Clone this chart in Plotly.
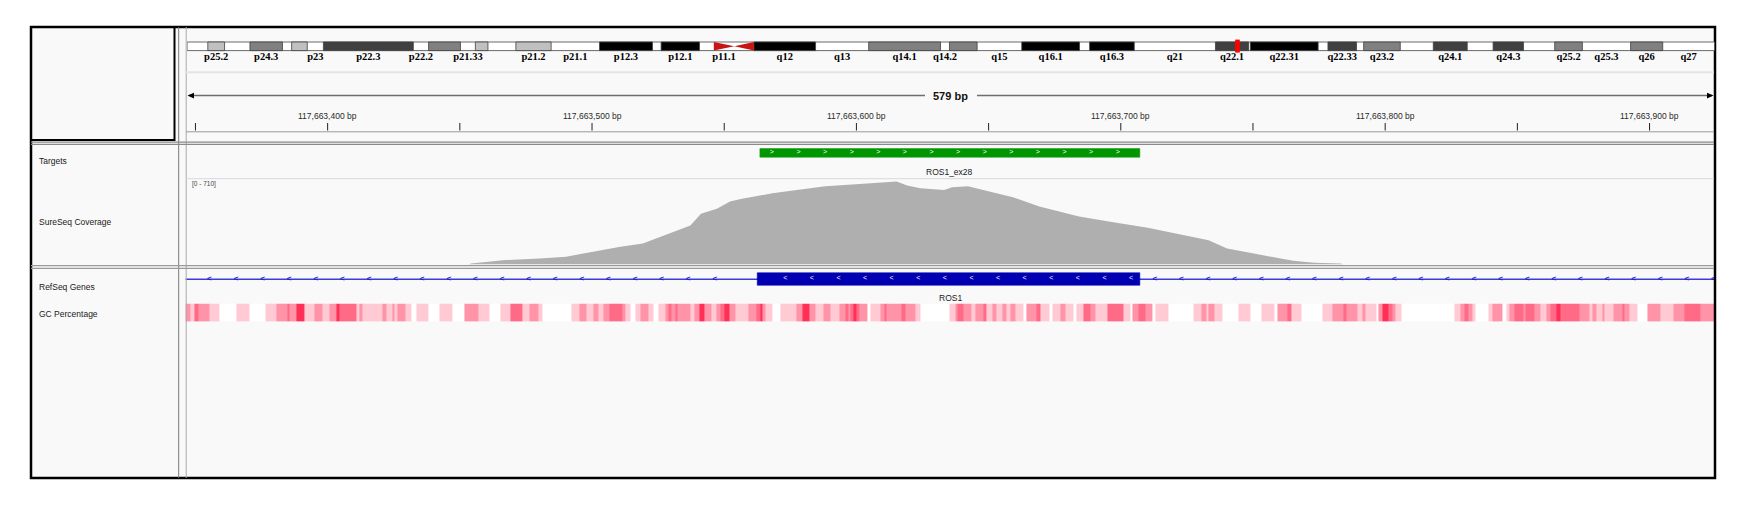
"""IGV-style snapshot of ROS1 exon 28 on chr6, rebuilt with plotly."""

import plotly.graph_objects as go

W, H = 1751, 513
SANS = 'Liberation Sans'
SERIF = 'Liberation Serif'

# visible window (hg19 chr6) and the ruler
view_start = 117663346.2
view_end = 117663924.6
view_width_label = '579 bp'
ruler_ticks = [117663350, 117663400, 117663450, 117663500, 117663550, 117663600,
               117663650, 117663700, 117663750, 117663800, 117663850, 117663900]
label_ticks = [117663400, 117663500, 117663600, 117663700, 117663800, 117663900]
tick_labels = ['117,663,400 bp', '117,663,500 bp', '117,663,600 bp',
               '117,663,700 bp', '117,663,800 bp', '117,663,900 bp']

# chr6 cytobands (Mb), as drawn in the ideogram
chrom_len = 171.1
band_names = ['p25.3', 'p25.2', 'p25.1', 'p24.3', 'p24.2', 'p24.1', 'p23', 'p22.3',
              'p22.2', 'p22.1', 'p21.33', 'p21.32', 'p21.31', 'p21.2', 'p21.1', 'p12.3',
              'p12.2', 'p12.1', 'p11.2', 'p11.1', 'q11.1', 'q12', 'q13', 'q14.1',
              'q14.2', 'q14.3', 'q15', 'q16.1', 'q16.2', 'q16.3', 'q21', 'q22.1',
              'q22.2', 'q22.31', 'q22.32', 'q22.33', 'q23.1', 'q23.2', 'q23.3', 'q24.1',
              'q24.2', 'q24.3', 'q25.1', 'q25.2', 'q25.3', 'q26', 'q27']
band_start = [0, 2.32, 4.2, 7.04, 10.68, 11.71, 13.46, 15.27,
              25.34, 27.05, 30.62, 32.29, 33.7, 36.83, 40.78, 46.2,
              52.13, 53.1, 57.4, 59.0, 61.3, 63.5, 70.4, 76.35,
              84.4, 85.4, 88.5, 93.5, 99.97, 101.1, 106.1, 115.2,
              118.9, 119.1, 126.7, 127.8, 131.0, 131.8, 135.9, 139.6,
              143.4, 146.3, 149.7, 153.2, 156.3, 161.7, 165.3]
band_end = band_start[1:] + [chrom_len]
band_stain = ['gneg', 'gpos25', 'gneg', 'gpos50', 'gneg', 'gpos25', 'gneg', 'gpos75',
              'gneg', 'gpos50', 'gneg', 'gpos25', 'gneg', 'gpos25', 'gneg', 'gpos100',
              'gneg', 'gpos100', 'gneg', 'acen', 'acen', 'gpos100', 'gneg', 'gpos50',
              'gneg', 'gpos50', 'gneg', 'gpos100', 'gneg', 'gpos100', 'gneg', 'gpos75',
              'gneg', 'gpos100', 'gneg', 'gpos75', 'gneg', 'gpos50', 'gneg', 'gpos75',
              'gneg', 'gpos75', 'gneg', 'gpos50', 'gneg', 'gpos50', 'gneg']
labelled_bands = ['p25.2', 'p24.3', 'p23', 'p22.3', 'p22.2', 'p21.33', 'p21.2', 'p21.1',
                  'p12.3', 'p12.1', 'p11.1', 'q12', 'q13', 'q14.1', 'q14.2', 'q15',
                  'q16.1', 'q16.3', 'q21', 'q22.1', 'q22.31', 'q22.33', 'q23.2', 'q24.1',
                  'q24.3', 'q25.2', 'q25.3', 'q26', 'q27']
stain_colour = {'gneg': '#ffffff', 'gpos25': '#c0c0c0', 'gpos50': '#808080',
                'gpos75': '#404040', 'gpos100': '#000000'}

# features
target_name = 'ROS1_ex28'
target_start, target_end = 117663563.5, 117663707.2
gene_name = 'ROS1'
exon_start, exon_end = 117663562.5, 117663707.2

# SureSeq coverage, offset in bp from view_start
cov_max = 710
cov_offset = [0, 107, 108, 116, 121, 134, 144, 149, 157, 164,
              173, 178, 184, 191, 195, 201, 206, 210, 222, 235,
              242, 255, 263, 269, 273, 278, 287, 290, 296, 307,
              313, 323, 338, 351, 364, 376, 387, 394, 401, 409,
              419, 427, 437, 438, 578]
cov_depth = [0, 0, 10, 23, 37, 51, 64, 86, 119, 146,
             174, 215, 269, 324, 420, 461, 521, 543, 589, 626,
             647, 667, 680, 686, 653, 631, 617, 639, 647, 589,
             557, 480, 398, 351, 305, 250, 201, 133, 105, 70,
             31, 15, 10, 0, 0]

# GC percentage heatmap: segment starts (bp offset) and colour class 0 (low) .. 4 (high)
gc_start = [0, 1.9, 3.5, 5.1, 9.2, 13.0, 19.3, 24.1, 30.4, 34.4,
            38.4, 39.2, 41.9, 45.1, 48.9, 52.0, 54.6, 57.1, 58.1, 64.6,
            65.9, 66.9, 74.4, 76.0, 78.3, 79.2, 80.0, 83.3, 85.4, 87.3,
            91.8, 95.9, 100.9, 105.6, 111.0, 115.1, 119.3, 122.9, 127.4, 130.2,
            133.4, 134.9, 145.9, 149.2, 151.8, 154.3, 156.2, 158.1, 160.4, 165.4,
            166.3, 168.2, 170.1, 172.0, 175.3, 177.2, 178.9, 181.4, 182.7, 183.9,
            185.2, 186.1, 190.9, 192.7, 194.6, 196.2, 199.1, 201.0, 202.2, 203.7,
            205.7, 207.9, 212.9, 216.1, 217.3, 218.3, 219.2, 222.1, 224.9, 231.2,
            233.5, 236.2, 238.1, 241.3, 244.1, 247.3, 249.5, 250.7, 251.6, 252.6,
            253.9, 255.1, 257.9, 259.2, 262.7, 264.2, 265.0, 270.9, 272.2, 276.0,
            278.1, 289.0, 291.1, 292.0, 294.3, 297.4, 298.7, 301.9, 302.9, 305.1,
            306.9, 309.2, 310.5, 312.0, 313.9, 316.8, 318.0, 321.8, 323.3, 326.9,
            328.1, 330.9, 332.8, 336.0, 337.0, 339.5, 342.2, 344.2, 348.8, 354.9,
            357.4, 358.0, 360.5, 363.0, 365.9, 366.8, 371.9, 381.1, 384.1, 386.1,
            387.0, 389.2, 392.1, 398.1, 402.8, 406.8, 411.9, 412.9, 416.9, 418.2,
            422.0, 429.9, 433.7, 438.1, 439.1, 443.2, 445.1, 446.3, 450.6, 451.4,
            452.7, 455.2, 456.5, 457.7, 459.9, 479.8, 482.1, 483.6, 485.1, 486.7,
            488.0, 492.7, 494.3, 498.1, 499.7, 500.6, 502.8, 506.0, 506.9, 510.1,
            512.6, 514.9, 516.4, 518.6, 520.1, 527.1, 531.2, 532.1, 533.8, 535.9,
            536.8, 540.1, 543.5, 544.4, 546.0, 549.2, 553.0, 558.0, 563.0, 567.1,
            572.9]
gc_class = [2, 1, 3, 2, 1, 0, 1, 0, 1, 2,
            3, 2, 4, 1, 2, 1, 2, 4, 3, 1,
            2, 1, 2, 1, 2, 1, 2, 1, 0, 1,
            0, 1, 0, 2, 1, 0, 1, 3, 1, 2,
            1, 0, 1, 2, 1, 2, 1, 2, 3, 2,
            1, 0, 1, 2, 1, 0, 1, 2, 3, 2,
            3, 2, 1, 2, 4, 2, 1, 2, 3, 4,
            2, 1, 2, 3, 4, 2, 1, 0, 1, 2,
            4, 2, 1, 2, 1, 2, 3, 2, 3, 4,
            3, 2, 0, 1, 2, 3, 2, 3, 2, 1,
            0, 1, 2, 3, 2, 1, 2, 3, 1, 2,
            1, 2, 1, 2, 1, 0, 2, 3, 1, 0,
            1, 2, 1, 0, 1, 3, 2, 1, 3, 1,
            0, 2, 3, 2, 0, 1, 0, 1, 2, 1,
            2, 1, 0, 1, 0, 1, 0, 2, 3, 1,
            0, 1, 2, 3, 2, 1, 2, 1, 0, 2,
            4, 3, 2, 1, 0, 1, 2, 3, 2, 1,
            0, 1, 2, 0, 1, 2, 3, 2, 3, 2,
            1, 2, 3, 4, 3, 2, 1, 2, 1, 2,
            1, 2, 3, 2, 1, 0, 2, 1, 2, 3,
            2]
gc_colours = ['#ffffff', '#ffcad4', '#ff94a8', '#ff6a86', '#ff2f57']

# screen geometry of the IGV window (pixels)
DATA_X0, DATA_X1 = 185.4, 1714.6
IDEO_X0, IDEO_X1 = 187.1, 1714.5
px_per_bp = (DATA_X1 - DATA_X0) / (view_end - view_start)


def px(x):
    return x / W


def hline(x0, x1, y, colour, width=1.0):
    return dict(type='line', xref='paper', yref='y3', x0=px(x0), x1=px(x1),
                y0=y, y1=y, line=dict(color=colour, width=width))


def vline(x, y0, y1, colour, width=1.0):
    return dict(type='line', xref='paper', yref='y3', x0=px(x), x1=px(x),
                y0=y0, y1=y1, line=dict(color=colour, width=width))


def text(s, x, y, size=8.5, anchor='left', xref='paper', colour='#1a1a1a',
         family=SANS, weight='normal'):
    if xref == 'paper':
        x = px(x)
    return dict(text=s, x=x, y=y, xref=xref, yref='y3', xanchor=anchor,
                yanchor='middle', showarrow=False,
                font=dict(family=family, size=size, color=colour, weight=weight))


def arrow_run(start, stop, lead_px, tail_px, step_px=26.6):
    """Positions of the strand chevrons IGV draws along a feature."""
    out = []
    pos = start + lead_px / px_per_bp
    while pos < stop - tail_px / px_per_bp:
        out.append(pos)
        pos += step_px / px_per_bp
    return out


fig = go.Figure()

# coverage
cov_x = [view_start + o for o in cov_offset]
fig.add_trace(go.Scatter(x=cov_x, y=cov_depth, mode='lines', fill='tozeroy',
                         line=dict(width=0, color='#afafaf'), fillcolor='#afafaf',
                         hoverinfo='skip', xaxis='x', yaxis='y'))

# GC heatmap
gc_edges = [view_start + s for s in gc_start] + [view_end]
n_cls = len(gc_colours) - 1
gc_scale = [[i / n_cls, c] for i, c in enumerate(gc_colours)]
fig.add_trace(go.Heatmap(x=gc_edges, y=[0, 1], z=[gc_class], zmin=0, zmax=n_cls,
                         colorscale=gc_scale, showscale=False, hoverinfo='skip',
                         xaxis='x', yaxis='y2'))

# strand chevrons
tgt_arrows = arrow_run(target_start, target_end, 12, 12)
exon_arrows = arrow_run(exon_start, exon_end, 28, 5)
intron_arrows = (arrow_run(view_start, exon_start, 24, 30)
                 + arrow_run(exon_end, view_end, 15, 0))
fig.add_trace(go.Scatter(x=tgt_arrows, y=[152.6] * len(tgt_arrows), mode='text',
                         text=['>'] * len(tgt_arrows),
                         textfont=dict(family=SANS, size=7, color='white'),
                         hoverinfo='skip', xaxis='x', yaxis='y3'))
fig.add_trace(go.Scatter(x=exon_arrows, y=[278.6] * len(exon_arrows), mode='text',
                         text=['<'] * len(exon_arrows),
                         textfont=dict(family=SANS, size=7, color='white'),
                         hoverinfo='skip', xaxis='x', yaxis='y3'))
fig.add_trace(go.Scatter(x=intron_arrows, y=[278.7] * len(intron_arrows), mode='text',
                         text=['<'] * len(intron_arrows),
                         textfont=dict(family=SANS, size=8, color='#1e1ec8', weight='bold'),
                         hoverinfo='skip', xaxis='x', yaxis='y3'))

# cytoband labels
lab_x = [(band_start[i] + band_end[i]) / 2 for i, n in enumerate(band_names)
         if n in labelled_bands]
lab_t = [n for n in band_names if n in labelled_bands]
fig.add_trace(go.Scatter(x=lab_x, y=[57.2] * len(lab_x), mode='text', text=lab_t,
                         textfont=dict(family=SERIF, size=10.5, color='black', weight='bold'),
                         hoverinfo='skip', cliponaxis=False, xaxis='x2', yaxis='y3'))

shapes = []
# window background and frame
shapes.append(dict(type='rect', xref='paper', yref='y3', x0=px(31), x1=px(1714),
                   y0=27, y1=478, fillcolor='#f9f9f9', line=dict(width=0), layer='below'))
shapes.append(dict(type='rect', xref='paper', yref='y3', x0=px(31), x1=px(1715),
                   y0=27, y1=478, line=dict(color='black', width=2.5)))
shapes.append(vline(174.5, 27, 141, 'black', 2))
shapes.append(hline(31, 174.5, 140, 'black', 2))
shapes.append(vline(178.7, 27, 478, '#7a7a7a', 1))
shapes.append(vline(186.2, 27, 478, '#a8a8a8', 1))
shapes.append(hline(31, 1714, 142.2, '#8a8a8a', 1.3))
shapes.append(hline(31, 1714, 144.4, '#8a8a8a', 1.3))
shapes.append(hline(186, 1714, 72.3, '#e4e4e4', 2))
shapes.append(hline(186, 1714, 131.8, '#9a9a9a', 1))
shapes.append(hline(186, 1714, 178.7, '#d8d8e2', 1))
shapes.append(hline(31, 1714, 265.6, '#9a9a9a', 1.3))
shapes.append(hline(31, 1714, 268.4, '#9a9a9a', 1.3))

# ideogram
shapes.append(dict(type='rect', xref='x2', yref='y3', x0=0, x1=chrom_len, y0=42, y1=50.6,
                   fillcolor='white', line=dict(color='#6a6a6a', width=1)))
for s, e, st in zip(band_start, band_end, band_stain):
    if st in ('gneg', 'acen'):
        continue
    shapes.append(dict(type='rect', xref='x2', yref='y3', x0=s, x1=e, y0=42, y1=50.6,
                       fillcolor=stain_colour[st], line=dict(color='#404040', width=0.8)))
acen = [i for i, st in enumerate(band_stain) if st == 'acen']
p_arm, q_arm = acen[0], acen[1]
mid_y = 46.3
shapes.append(dict(type='path', xref='x2', yref='y3', fillcolor='#c81414',
                   line=dict(width=0),
                   path=f'M {band_start[p_arm]},42 L {band_end[p_arm]},{mid_y} '
                        f'L {band_start[p_arm]},50.6 Z'))
shapes.append(dict(type='path', xref='x2', yref='y3', fillcolor='#c81414',
                   line=dict(width=0),
                   path=f'M {band_end[q_arm]},42 L {band_start[q_arm]},{mid_y} '
                        f'L {band_end[q_arm]},50.6 Z'))
view_mb = (view_start + view_end) / 2e6
half_box = 2.3 / ((IDEO_X1 - IDEO_X0) / chrom_len)
shapes.append(dict(type='rect', xref='x2', yref='y3', x0=view_mb - half_box,
                   x1=view_mb + half_box, y0=39.6, y1=52.6, fillcolor='#ff0000',
                   line=dict(width=0)))

# ruler
shapes.append(hline(189, 925, 95.6, '#6e6e6e', 1.5))
shapes.append(hline(977, 1712, 95.6, '#6e6e6e', 1.5))
shapes.append(dict(type='path', xref='paper', yref='y3', fillcolor='black', line=dict(width=0),
                   path=f'M {px(187.5)},95.6 L {px(194)},92.8 L {px(194)},98.4 Z'))
shapes.append(dict(type='path', xref='paper', yref='y3', fillcolor='black', line=dict(width=0),
                   path=f'M {px(1713.5)},95.6 L {px(1707)},92.8 L {px(1707)},98.4 Z'))
for t in ruler_ticks:
    shapes.append(dict(type='line', xref='x', yref='y3', x0=t, x1=t, y0=123, y1=130.5,
                       line=dict(color='#202020', width=1)))

# features
shapes.append(dict(type='rect', xref='x', yref='y3', x0=target_start, x1=target_end,
                   y0=148.6, y1=157.2, fillcolor='#009600',
                   line=dict(color='#1aa01a', width=0.6), layer='below'))
shapes.append(dict(type='line', xref='x', yref='y3', x0=view_start, x1=view_end,
                   y0=279.2, y1=279.2, line=dict(color='#3c3cd8', width=1.4), layer='below'))
shapes.append(dict(type='rect', xref='x', yref='y3', x0=exon_start, x1=exon_end,
                   y0=272.8, y1=285.2, fillcolor='#0000b2',
                   line=dict(color='#0000b2', width=0.6), layer='below'))

annotations = []
annotations.append(text(view_width_label, (DATA_X0 + DATA_X1) / 2, 96.2, size=11,
                        anchor='center', colour='#111111', weight='bold'))
for t, lab in zip(label_ticks, tick_labels):
    annotations.append(text(lab, t, 115.6, size=8.5, anchor='center', xref='x',
                            colour='#2a2a2a'))
annotations.append(text(target_name, (target_start + target_end) / 2, 172.3, size=8.5,
                        anchor='center', xref='x'))
annotations.append(text(gene_name, (view_start + view_end) / 2, 298.3, size=8.5,
                        anchor='center', xref='x'))
annotations.append(text(f'[0 - {cov_max}]', 189.5, 184.4, size=6.5, colour='#444444'))
annotations.append(text('Targets', 36.5, 161.2))
annotations.append(text('SureSeq Coverage', 36.5, 222.4))
annotations.append(text('RefSeq Genes', 36.5, 287.2))
annotations.append(text('GC Percentage', 36.5, 313.8))

fig.update_layout(
    width=W, height=H, margin=dict(l=0, r=0, t=0, b=0),
    paper_bgcolor='white', plot_bgcolor='rgba(0,0,0,0)', showlegend=False,
    xaxis=dict(domain=[px(DATA_X0), px(DATA_X1)], range=[view_start, view_end],
               visible=False, fixedrange=True),
    xaxis2=dict(domain=[px(IDEO_X0), px(IDEO_X1)], range=[0, chrom_len],
                visible=False, fixedrange=True, anchor='y3'),
    yaxis=dict(domain=[1 - 264.6 / H, 1 - 178.7 / H], range=[0, cov_max],
               visible=False, fixedrange=True),
    yaxis2=dict(domain=[1 - 321.8 / H, 1 - 303.5 / H], range=[0, 1],
                visible=False, fixedrange=True),
    yaxis3=dict(domain=[0, 1], range=[H, 0], visible=False, fixedrange=True),
    shapes=shapes, annotations=annotations,
)

fig.write_html('out.html', config={'displayModeBar': False},
               post_script="document.body.style.margin='0';")
